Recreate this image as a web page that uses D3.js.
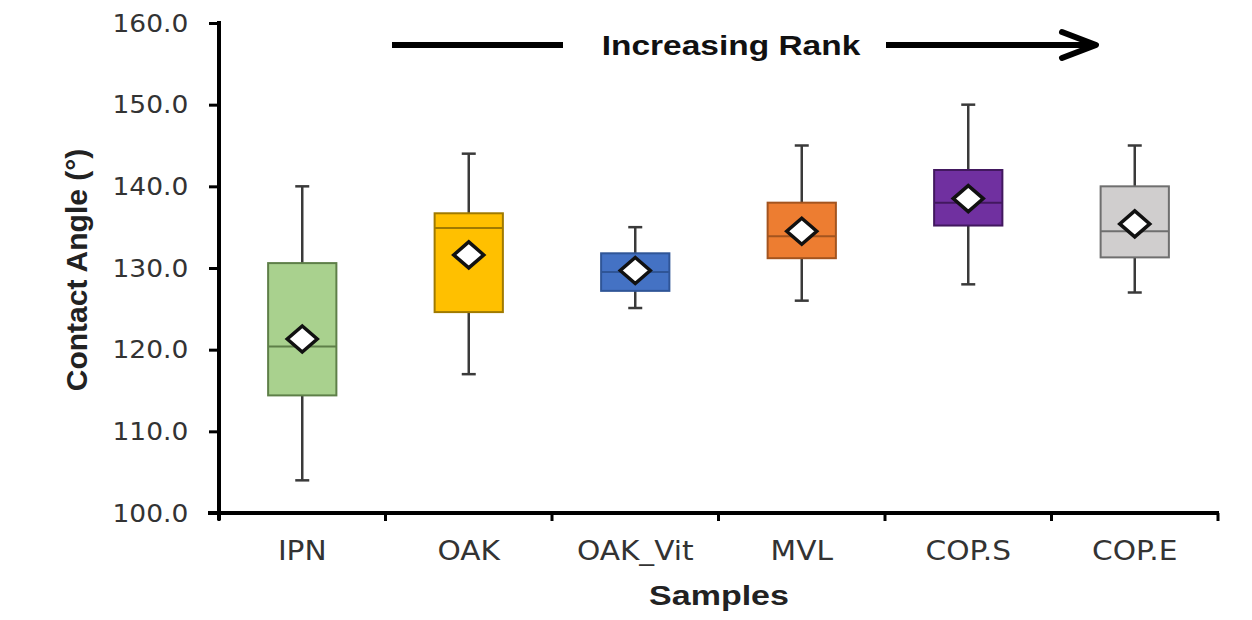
<!DOCTYPE html>
<html>
<head>
<meta charset="utf-8">
<script src="https://cdn.jsdelivr.net/npm/d3@7"></script>
<style>
  body { margin: 0; background: #fff; }
  svg { display: block; }
</style>
</head>
<body>
<svg class="chart"></svg>
<script>
var width = 1252;
var height = 620;

// box plot values
var categories = ["IPN", "OAK", "OAK_Vit", "MVL", "COP.S", "COP.E"];
var minVals = [104.0, 117.0, 125.1, 126.0, 128.0, 127.0];
var q1Vals = [114.4, 124.6, 127.2, 131.2, 135.2, 131.3];
var medianVals = [120.4, 134.9, 129.5, 133.9, 138.0, 134.5];
var q3Vals = [130.6, 136.7, 131.8, 138.0, 142.0, 140.0];
var maxVals = [140.0, 144.0, 135.0, 145.0, 150.0, 145.0];
var meanVals = [121.3, 131.6, 129.7, 134.5, 138.5, 135.4];
var yTicks = [100, 110, 120, 130, 140, 150, 160];

var fills = ["#a9d18e", "#ffc000", "#4472c4", "#ed7d31", "#7030a0", "#d0cece"];
var strokes = ["#5e7f48", "#a07a00", "#2f5597", "#a3541f", "#42185f", "#6f6f6f"];

var chart = d3.select(".chart")
    .attr("width", width)
    .attr("height", height);

var x = d3.scaleBand()
    .domain(categories)
    .range([219, 1218])
    .padding(0);

var y = d3.scaleLinear()
    .domain([100, 160])
    .range([513, 23]);

var boxW = x.bandwidth() * 0.41;

var boxes = categories.map(function(c, i) {
    return {
        name: c, min: minVals[i], q1: q1Vals[i], med: medianVals[i],
        q3: q3Vals[i], max: maxVals[i], mean: meanVals[i],
        fill: fills[i], stroke: strokes[i]
    };
});

// y axis
var yAxis = chart.append("g")
    .attr("transform", "translate(219,0)")
    .call(d3.axisLeft(y)
        .tickValues(yTicks)
        .tickFormat(d3.format(".1f"))
        .tickSizeInner(10)
        .tickSizeOuter(0)
        .tickPadding(19));

yAxis.select(".domain").attr("stroke", "#000").attr("stroke-width", 4)
    .attr("d", "M0," + (y(160) - 2) + "V" + (y(100) + 7));
yAxis.selectAll(".tick line").attr("stroke", "#000").attr("stroke-width", 3);
yAxis.selectAll(".tick text")
    .attr("fill", "#333")
    .style("font-family", "'DejaVu Sans', sans-serif")
    .style("font-size", "25px")
    .attr("transform", "scale(1.06,1)");

// x axis (labels only, boundary ticks added below)
var xAxis = chart.append("g")
    .attr("transform", "translate(0,513)")
    .call(d3.axisBottom(x).tickSize(0).tickPadding(29));

xAxis.select(".domain").remove();
xAxis.selectAll(".tick text")
    .attr("fill", "#333")
    .style("font-family", "'DejaVu Sans', sans-serif")
    .style("font-size", "26px")
    .attr("transform", "scale(1.14,1)");

chart.append("line")
    .attr("x1", 208).attr("x2", x.range()[1] + 1)
    .attr("y1", y(100)).attr("y2", y(100))
    .attr("stroke", "#000").attr("stroke-width", 4);

var bounds = categories.map(function(c) { return x(c); }).concat([x.range()[1]]);
chart.selectAll("line.xtick")
    .data(bounds)
    .enter()
    .append("line")
    .attr("class", "xtick")
    .attr("x1", function(d) { return d; })
    .attr("x2", function(d) { return d; })
    .attr("y1", y(100))
    .attr("y2", y(100) + 8)
    .attr("stroke", "#000")
    .attr("stroke-width", 3);

// boxes
var g = chart.selectAll("g.box")
    .data(boxes)
    .enter()
    .append("g")
    .attr("class", "box")
    .attr("transform", function(d) { return "translate(" + (x(d.name) + x.bandwidth() / 2) + ",0)"; });

// whiskers
g.append("line")
    .attr("y1", function(d) { return y(d.max); })
    .attr("y2", function(d) { return y(d.q3); })
    .attr("stroke", "#3a3a3a").attr("stroke-width", 2.5);
g.append("line")
    .attr("y1", function(d) { return y(d.q1); })
    .attr("y2", function(d) { return y(d.min); })
    .attr("stroke", "#3a3a3a").attr("stroke-width", 2.5);
g.append("line")
    .attr("x1", -7).attr("x2", 7)
    .attr("y1", function(d) { return y(d.max); })
    .attr("y2", function(d) { return y(d.max); })
    .attr("stroke", "#3a3a3a").attr("stroke-width", 2.5);
g.append("line")
    .attr("x1", -7).attr("x2", 7)
    .attr("y1", function(d) { return y(d.min); })
    .attr("y2", function(d) { return y(d.min); })
    .attr("stroke", "#3a3a3a").attr("stroke-width", 2.5);

g.append("rect")
    .attr("x", -boxW / 2)
    .attr("width", boxW)
    .attr("y", function(d) { return y(d.q3); })
    .attr("height", function(d) { return y(d.q1) - y(d.q3); })
    .attr("fill", function(d) { return d.fill; })
    .attr("stroke", function(d) { return d.stroke; })
    .attr("stroke-width", 2);

g.append("line")
    .attr("x1", -boxW / 2).attr("x2", boxW / 2)
    .attr("y1", function(d) { return y(d.med); })
    .attr("y2", function(d) { return y(d.med); })
    .attr("stroke", function(d) { return d.stroke; })
    .attr("stroke-width", 2);

// mean markers
g.append("path")
    .attr("transform", function(d) { return "translate(0," + y(d.mean) + ")"; })
    .attr("d", "M0,-13L15,0L0,13L-15,0Z")
    .attr("fill", "#fff")
    .attr("stroke", "#111")
    .attr("stroke-width", 3.5);

// axis titles
chart.append("text")
    .attr("transform", "translate(87,270) rotate(-90)")
    .attr("text-anchor", "middle")
    .style("font-family", "'Liberation Sans', Arial, sans-serif")
    .style("font-weight", "bold")
    .style("font-size", "30px")
    .attr("fill", "#222")
    .text("Contact Angle (°)");

chart.append("text")
    .attr("transform", "translate(719,605) scale(1.26,1)")
    .attr("text-anchor", "middle")
    .style("font-family", "'Liberation Sans', Arial, sans-serif")
    .style("font-weight", "bold")
    .style("font-size", "27px")
    .attr("fill", "#222")
    .text("Samples");

// rank arrow
chart.append("text")
    .attr("transform", "translate(731,55) scale(1.24,1)")
    .attr("text-anchor", "middle")
    .style("font-family", "'Liberation Sans', Arial, sans-serif")
    .style("font-weight", "bold")
    .style("font-size", "27px")
    .attr("fill", "#111")
    .text("Increasing Rank");

chart.append("line")
    .attr("x1", 392).attr("x2", 563).attr("y1", 45).attr("y2", 45)
    .attr("stroke", "#000").attr("stroke-width", 6);
chart.append("line")
    .attr("x1", 886).attr("x2", 1094).attr("y1", 45).attr("y2", 45)
    .attr("stroke", "#000").attr("stroke-width", 6);
chart.append("path")
    .attr("d", "M1062,32L1096,45L1062,58")
    .attr("fill", "none")
    .attr("stroke", "#000")
    .attr("stroke-width", 6)
    .attr("stroke-linecap", "round")
    .attr("stroke-linejoin", "round");
</script>
</body>
</html>
